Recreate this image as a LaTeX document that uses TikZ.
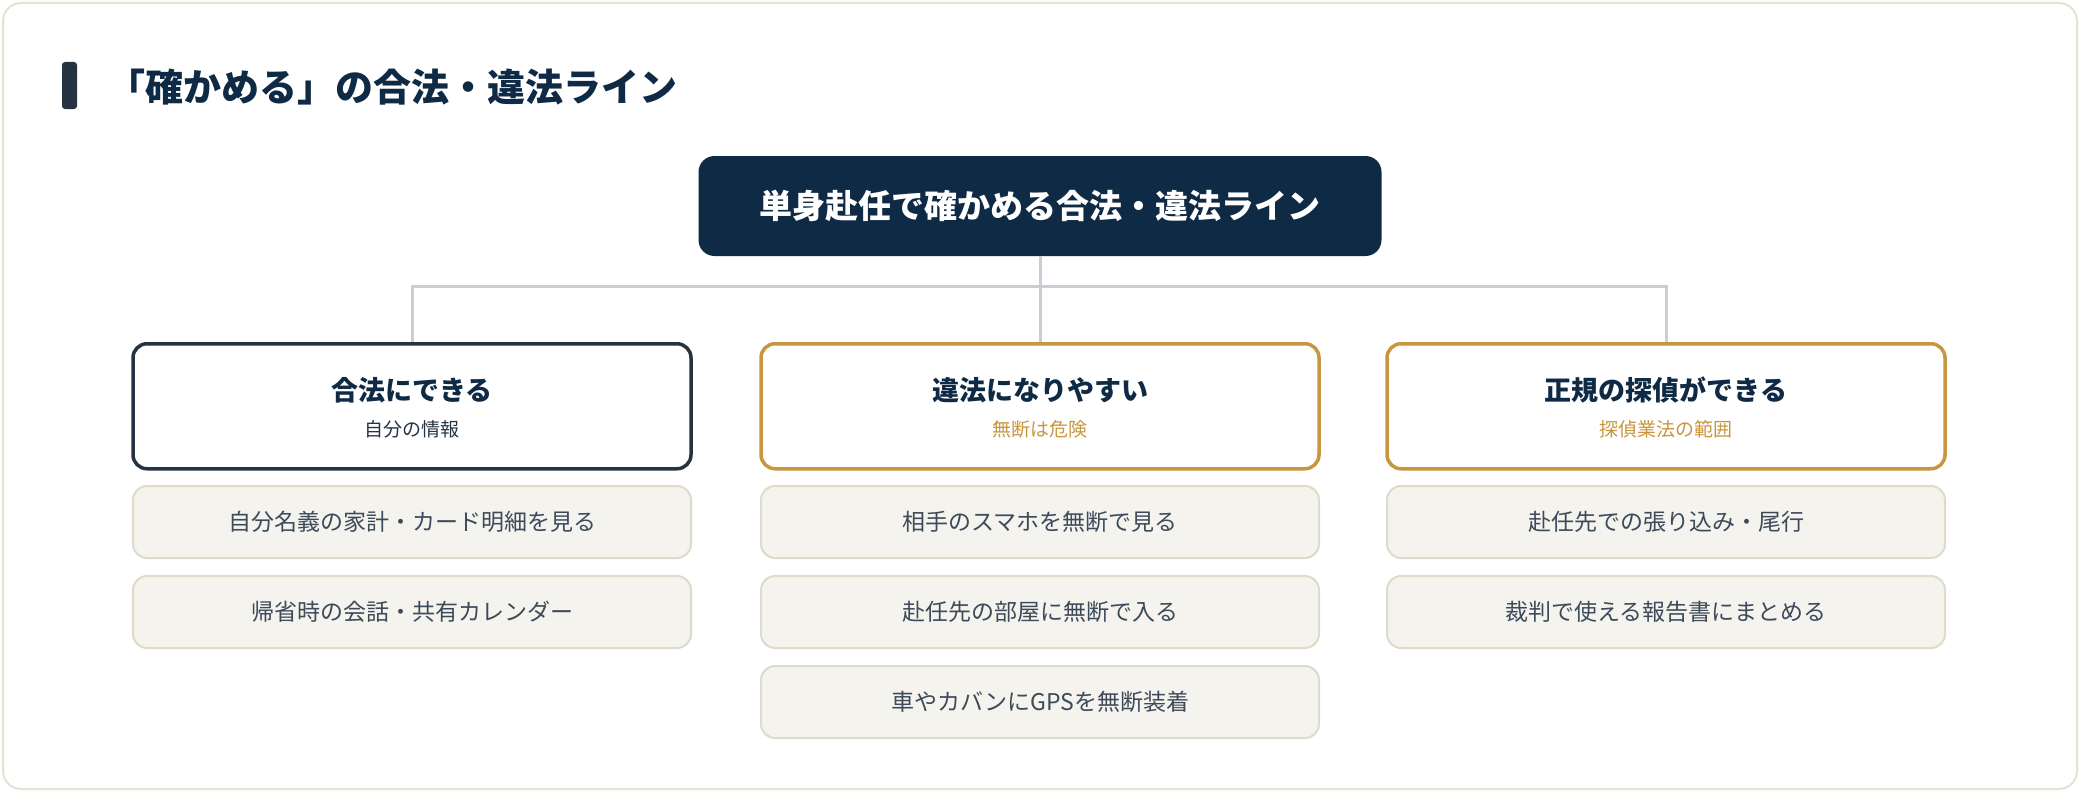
\documentclass[tikz,border=0pt]{standalone}
\usepackage{fontspec}
\setmainfont{Noto Sans CJK JP}
\definecolor{navy}{HTML}{0F2A44}
\definecolor{dark}{HTML}{263340}
\definecolor{gold}{HTML}{C8963E}
\definecolor{line}{HTML}{C8CDD6}
\definecolor{itemfill}{HTML}{F5F3EE}
\definecolor{itemdraw}{HTML}{DEDBCB}
\definecolor{itemtext}{HTML}{3D4A5A}
\definecolor{cardline}{HTML}{E5E3D6}
\begin{document}
\begin{tikzpicture}[x=1pt,y=-1pt,
  cat/.style={draw=#1,line width=3.5pt,rounded corners=14pt,fill=white,minimum width=558pt,minimum height=125pt,anchor=north,align=center},
  item/.style={draw=itemdraw,line width=2pt,rounded corners=14pt,fill=itemfill,minimum width=558pt,minimum height=72pt,anchor=north,text=itemtext,font=\fontsize{23}{28}\selectfont},
  conn/.style={draw=line,line width=3pt},
  ttl/.style={font=\bfseries\fontsize{27}{32}\selectfont,text=navy},
  sub/.style={font=\fontsize{19}{24}\selectfont}]
\useasboundingbox (0,0) rectangle (2080,792);
\draw[cardline,line width=2pt,fill=white,rounded corners=18pt] (3,3) rectangle (2077,789);
\fill[dark,rounded corners=3pt] (62,62) rectangle (77,109);
\node[anchor=west,text=navy,font=\bfseries\fontsize{38}{44}\selectfont] (title) at (104,87) {「確かめる」の合法・違法ライン};
\node[fill=navy,rounded corners=16pt,minimum width=683pt,minimum height=100pt,text=white,font=\bfseries\fontsize{33}{40}\selectfont] (root) at (1040,206) {単身赴任で確かめる合法・違法ライン};
\node[cat=dark] (c1) at (412,342) {};
\node[cat=gold] (c2) at (1040,342) {};
\node[cat=gold] (c3) at (1666,342) {};
\node[ttl] at (412,390) {合法にできる};
\node[sub,text=dark] at (412,429) {自分の情報};
\node[ttl] at (1040,390) {違法になりやすい};
\node[sub,text=gold] at (1040,429) {無断は危険};
\node[ttl] at (1666,390) {正規の探偵ができる};
\node[sub,text=gold] at (1666,429) {探偵業法の範囲};
\coordinate (j) at (1040,286);
\draw[conn] (root.south) -- (j);
\draw[conn] (c1.north) |- (j) -| (c3.north);
\draw[conn] (j) -- (c2.north);
\node[item] (a1) at (412,485) {自分名義の家計・カード明細を見る};
\node[item] (a2) at (412,575) {帰省時の会話・共有カレンダー};
\node[item] (b1) at (1040,485) {相手のスマホを無断で見る};
\node[item] (b2) at (1040,575) {赴任先の部屋に無断で入る};
\node[item] (b3) at (1040,665) {車やカバンにGPSを無断装着};
\node[item] (d1) at (1666,485) {赴任先での張り込み・尾行};
\node[item] (d2) at (1666,575) {裁判で使える報告書にまとめる};
\end{tikzpicture}
\end{document}
